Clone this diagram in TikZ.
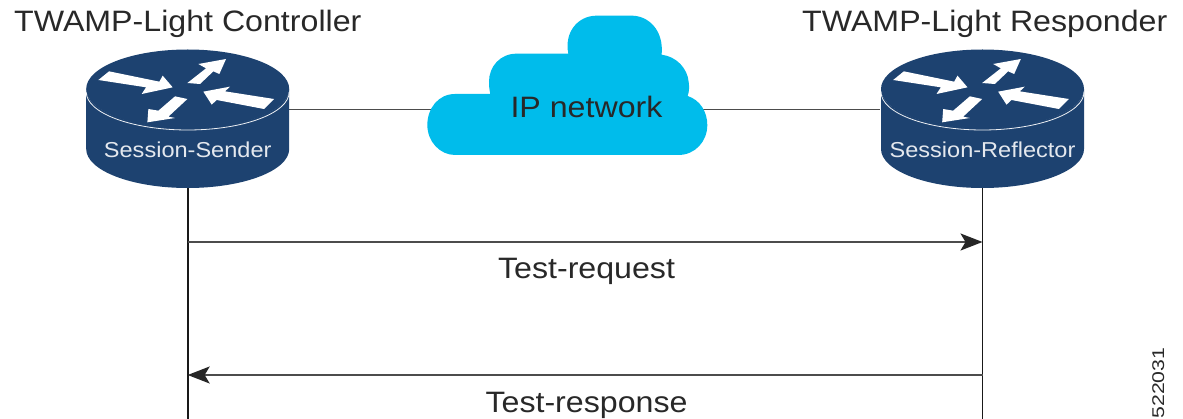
\documentclass[tikz,border=0pt]{standalone}
\usepackage{fontspec}
\setmainfont[FakeStretch=1.09]{Liberation Sans}
\newfontfamily\numfont[FakeStretch=1.25]{Liberation Sans}
\usetikzlibrary{arrows.meta}
\definecolor{routerblue}{RGB}{29,66,112}
\definecolor{cloudblue}{RGB}{0,188,235}
\definecolor{inktext}{RGB}{40,40,40}
\tikzset{
  wire/.style={draw=black!70!white,line width=1.7pt},
  vline/.style={draw=black!90!white,line width=1.7pt},
  msg/.style={draw=black!70!white,line width=1.7pt,-{Stealth[length=22pt,width=17pt,inset=5pt,black!85!white]}},
  big/.style={font=\fontsize{29.5}{31}\selectfont,text=inktext,inner sep=0pt},
  small/.style={font=\fontsize{21.6}{23}\selectfont,text=white!88!routerblue,inner sep=0pt},
  pics/routerbody/.style={code={
    \fill[routerblue] (-101.5,0) arc[start angle=180,end angle=0,x radius=101.5,y radius=39]
      -- (101.5,60) arc[start angle=0,end angle=180,x radius=101.5,y radius=39] -- cycle;
    \fill[routerblue] (0,0) ellipse[x radius=101.5,y radius=39.5];
    \draw[white!92!routerblue,line width=.8pt] (-101.5,3) arc[start angle=180,end angle=0,x radius=101.5,y radius=38];
    \begin{scope}[x=0.3333pt,y=-0.3333pt]
      \fill[white] (-268,-27)--(-236,-53)--(-85,-22)--(-75,-40)--(-45,-5)--(-138,15)--(-125,-5)--cycle;
      \fill[white] (-1,-18)--(37,-15)--(77,-53)--(95,-45)--(115,-90)--(32,-75)--(55,-62)--cycle;
      \fill[white] (47,8)--(127,-7)--(112,7)--(259,30)--(229,60)--(87,33)--(72,47)--cycle;
      \fill[white] (-121,100)--(-118,60)--(-88,65)--(-38,22)--(-1,30)--(-58,83)--(-38,87)--cycle;
    \end{scope}
  }}
}
\begin{document}
\begin{tikzpicture}[x=1pt,y=-1pt]
\useasboundingbox (0,0) rectangle (1183,419);
% routers and cloud anchors
\coordinate (lc) at (187.7,89);
\coordinate (rc) at (982.5,89);
\coordinate (lw) at (289,109.5);
\coordinate (rw) at (880,109.5);
\coordinate (ltop) at (187.7,187);
\coordinate (rtop) at (982.5,187);
\coordinate (lbot) at (187.7,419);
\coordinate (rbot) at (982.5,419);
\coordinate (lreq) at (187.7,242);
\coordinate (rreq) at (982.5,242);
\coordinate (lres) at (187.7,375);
\coordinate (rres) at (982.5,375);
% connectors
\draw[wire] (lw) -- (rw);
\draw[vline] (ltop) -- (lbot);
\draw[vline] (rtop) -- (rbot);
\draw[msg] (lreq) -- (rreq);
\draw[msg] (rres) -- (lres);
% cloud
\begin{scope}[shift={(410,0)},x=0.3333pt,y=-0.3333pt]
\fill[cloudblue] (135,465) -- (805,465)
  .. controls (855,465) and (892,425) .. (892,375)
  .. controls (892,335) and (870,300) .. (833,288)
  .. controls (838,275) and (838,260) .. (836,245)
  .. controls (832,205) and (800,170) .. (755,164)
  .. controls (762,90) and (715,47) .. (665,47)
  -- (560,47)
  .. controls (505,47) and (462,95) .. (475,161)
  -- (320,161)
  .. controls (270,161) and (237,200) .. (237,245)
  .. controls (237,258) and (238,270) .. (241,282)
  -- (135,282)
  .. controls (85,282) and (52,325) .. (52,375)
  .. controls (52,425) and (90,465) .. (135,465) -- cycle;
\end{scope}
% routers
\pic at (lc) {routerbody};
\pic at (rc) {routerbody};
% labels
\node[big,anchor=base west] (t1) at (14,31.5) {TWAMP-Light Controller};
\node[big,anchor=base west] (t2) at (802,31.5) {TWAMP-Light Responder};
\node[big,anchor=base] (ip) at (586.5,118) {IP network};
\node[small,anchor=base] (s1) at (187.7,158) {Session-Sender};
\node[small,anchor=base] (s2) at (982.5,158) {Session-Reflector};
\node[big,anchor=base] (req) at (586.5,279) {Test-request};
\node[big,anchor=base] (res) at (586.5,412) {Test-response};
\node[anchor=base,rotate=90,font=\numfont\fontsize{17}{20}\selectfont,text=inktext,inner sep=0pt] (num) at (1164,383) {522031};
\end{tikzpicture}
\end{document}
